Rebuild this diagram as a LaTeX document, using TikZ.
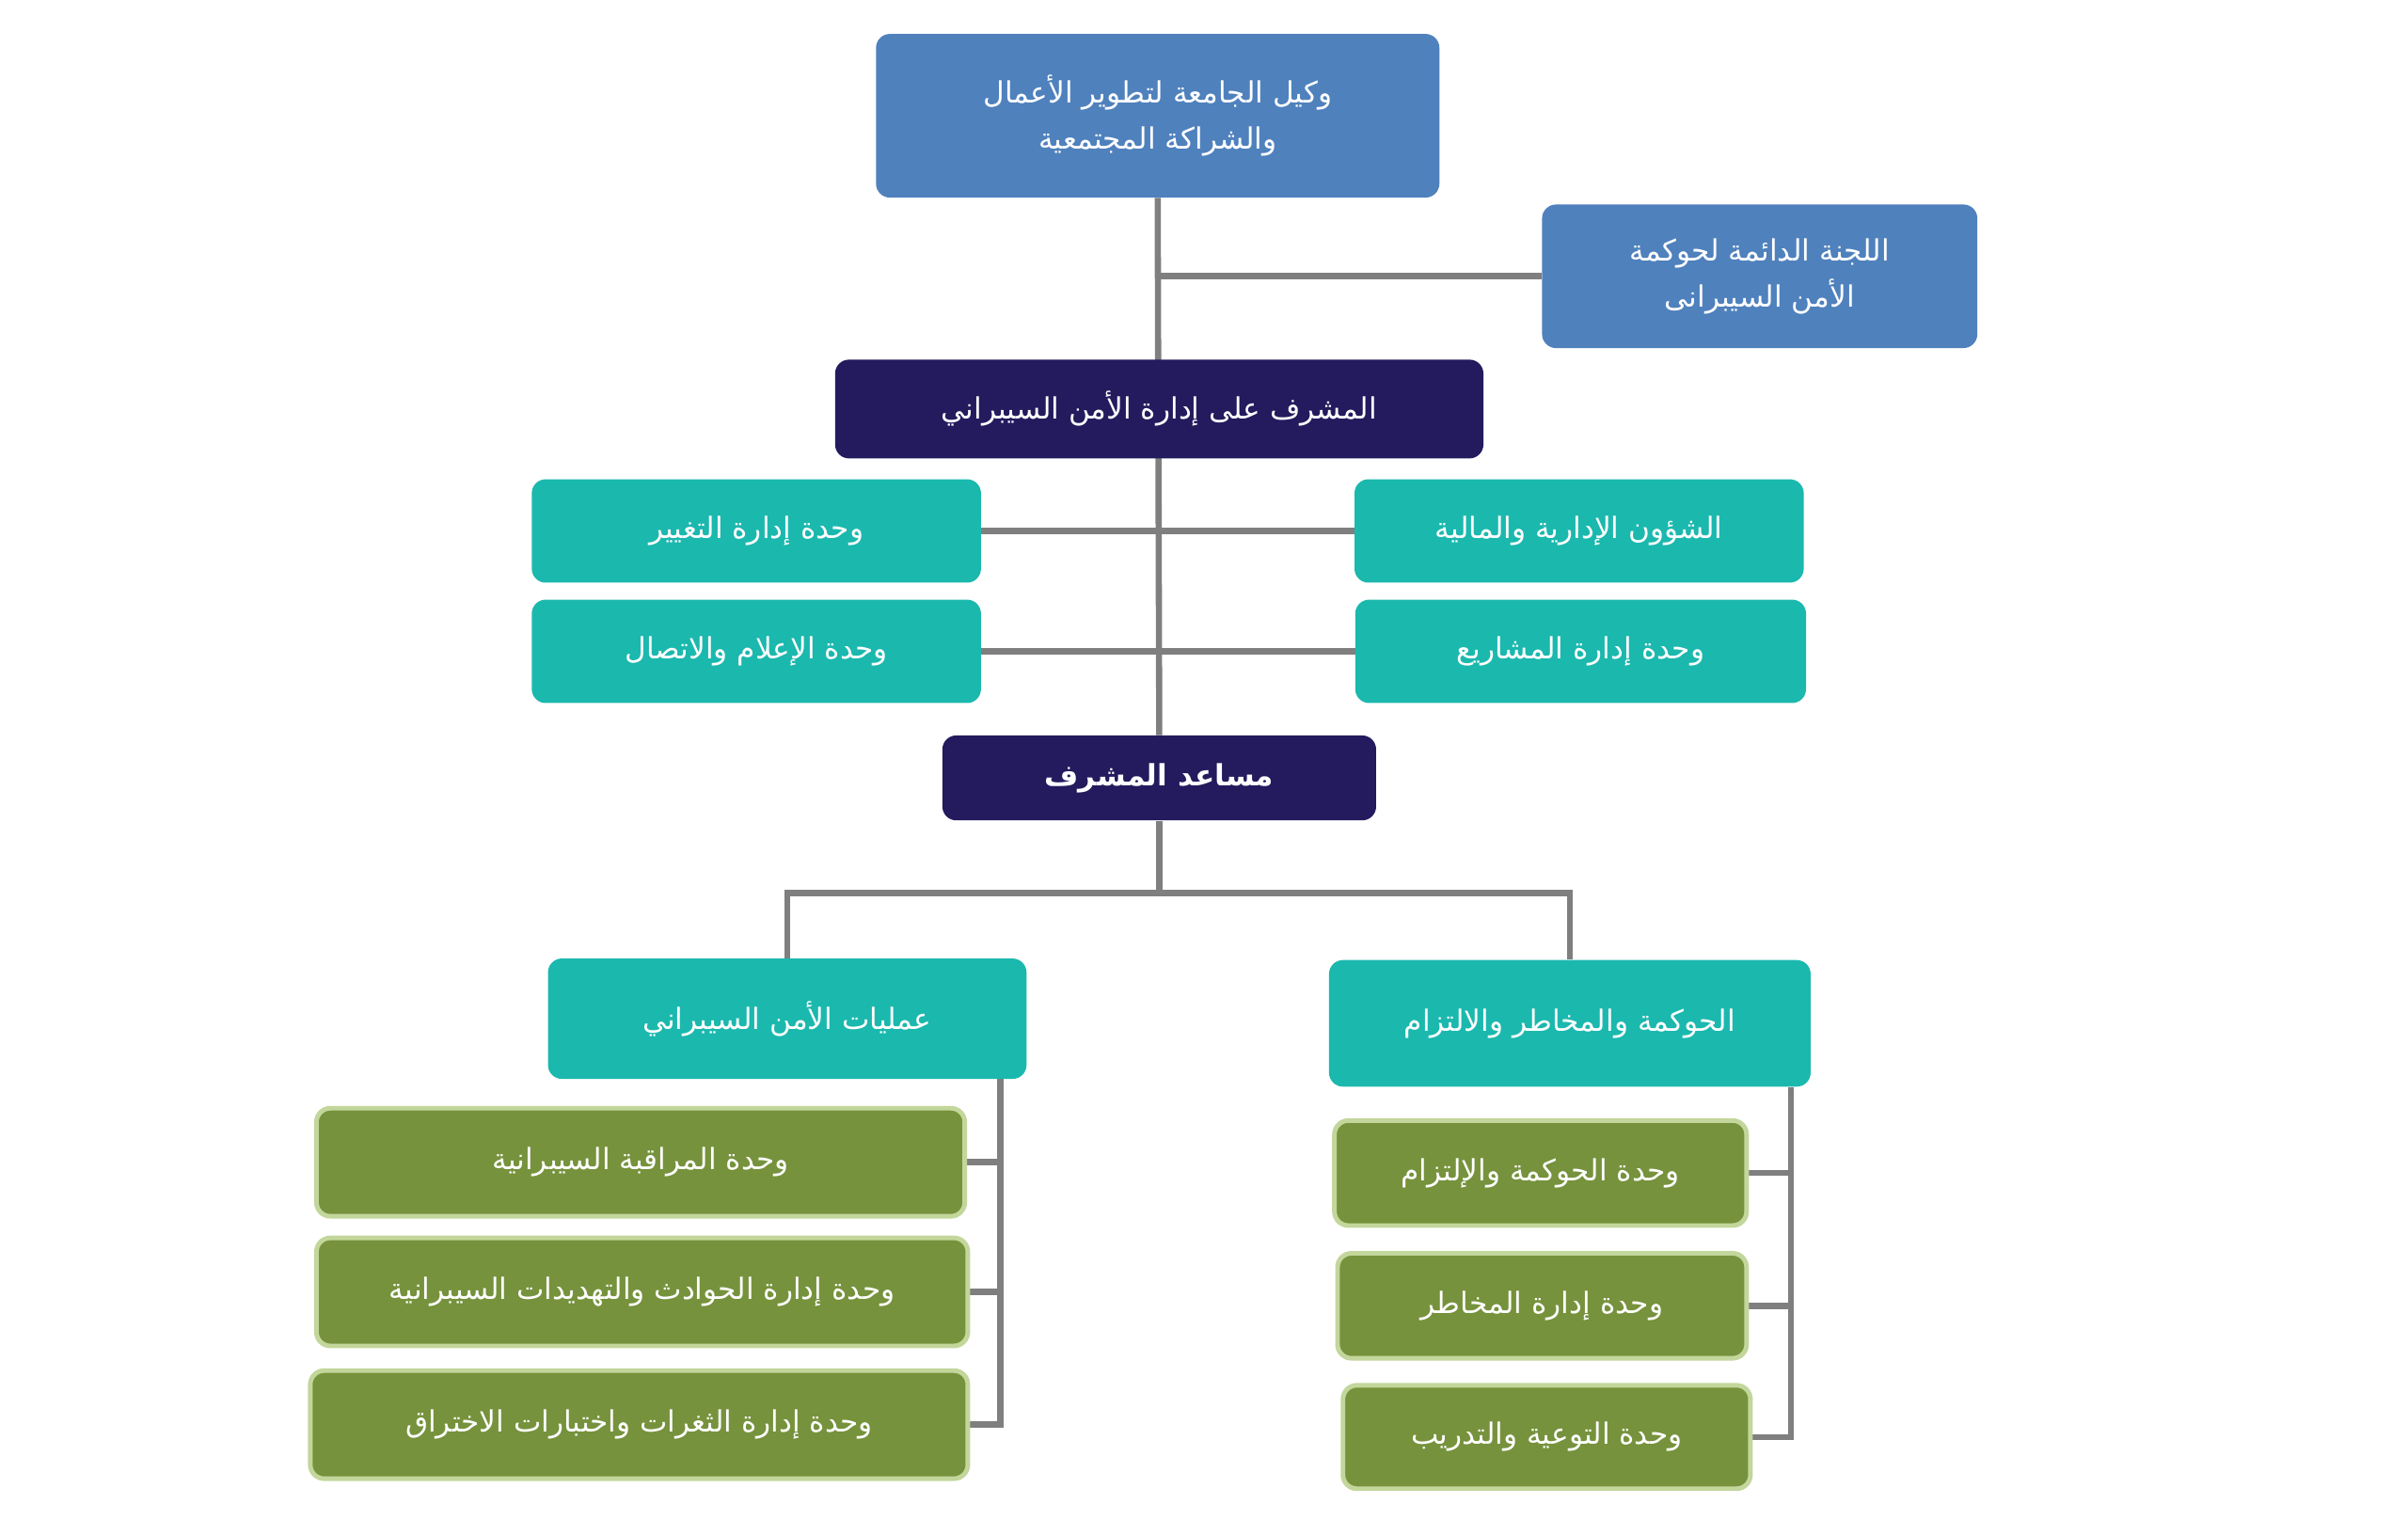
\documentclass[tikz,border=0pt]{standalone}
\usepackage{fontspec}
\newfontfamily\arabicfont[Script=Arabic]{DejaVu Sans}
\TeXXeTstate=1
\usetikzlibrary{backgrounds}
\definecolor{chairblue}{HTML}{4F81BD}
\definecolor{navy}{HTML}{231B5E}
\definecolor{tealbox}{HTML}{1BB8AE}
\definecolor{olivebox}{HTML}{76923C}
\definecolor{oliveedge}{HTML}{C3D69B}
\definecolor{linkgray}{HTML}{7F7F7F}
\newcommand\artxt[1]{\beginR #1\endR}
\tikzset{
  unit/.style={rounded corners=9pt, text=white, align=center, inner sep=0pt,
    font=\arabicfont\fontsize{19}{30}\selectfont},
  bluebox/.style={unit, fill=chairblue},
  navybox/.style={unit, fill=navy},
  tealunit/.style={unit, fill=tealbox},
  greenunit/.style={unit, fill=olivebox, draw=oliveedge, line width=3pt},
  link/.style={draw=linkgray, line width=4pt}
}
\begin{document}
\begin{tikzpicture}[x=1pt,y=-1pt]
  \useasboundingbox (0,0) rectangle (1560,984);

  % top of the chart
  \node[bluebox, minimum width=365, minimum height=106] (chair) at (750,75)
    {\artxt{وكيل الجامعة لتطوير الأعمال}\\ \artxt{والشراكة المجتمعية}};
  \node[bluebox, minimum width=282, minimum height=93] (board) at (1140,179)
    {\artxt{اللجنة الدائمة لحوكمة}\\ \artxt{الأمن السيبرانى}};
  \node[navybox, minimum width=420, minimum height=64] (head) at (751,265)
    {\artxt{المشرف على إدارة الأمن السيبراني}};

  % staff units
  \node[tealunit, minimum width=291, minimum height=67] (change) at (490,344) {\artxt{وحدة إدارة التغيير}};
  \node[tealunit, minimum width=291, minimum height=67] (admin) at (1023,344) {\artxt{الشؤون الإدارية والمالية}};
  \node[tealunit, minimum width=291, minimum height=67] (media) at (490,422) {\artxt{وحدة الإعلام والاتصال}};
  \node[tealunit, minimum width=292, minimum height=67] (projects) at (1024,422) {\artxt{وحدة إدارة المشاريع}};

  \node[navybox, minimum width=281, minimum height=55, font=\arabicfont\bfseries\fontsize{19}{30}\selectfont] (deputy) at (751,504)
    {\artxt{مساعد المشرف}};

  % two branches
  \node[tealunit, minimum width=310, minimum height=78] (ops) at (510,660) {\artxt{عمليات الأمن السيبراني}};
  \node[tealunit, minimum width=312, minimum height=82] (gov) at (1017,663) {\artxt{الحوكمة والمخاطر والالتزام}};

  \node[greenunit, minimum width=420, minimum height=70] (watch) at (415,753) {\artxt{وحدة المراقبة السيبرانية}};
  \node[greenunit, minimum width=422, minimum height=70] (incid) at (416,837) {\artxt{وحدة إدارة الحوادث والتهديدات السيبرانية}};
  \node[greenunit, minimum width=426, minimum height=70] (vuln) at (414,923) {\artxt{وحدة إدارة الثغرات واختبارات الاختراق}};
  \node[greenunit, minimum width=267, minimum height=68] (comply) at (998,760) {\artxt{وحدة الحوكمة والإلتزام}};
  \node[greenunit, minimum width=265, minimum height=68] (risk) at (999,846) {\artxt{وحدة إدارة المخاطر}};
  \node[greenunit, minimum width=264, minimum height=67] (aware) at (1002,931) {\artxt{وحدة التوعية والتدريب}};

  \begin{scope}[on background layer]
    \draw[link] (chair.south) -- (deputy.north);
    \draw[link] (board.west) -- (chair.south |- board.west);
    \draw[link] (change.east) -- (admin.west);
    \draw[link] (media.east) -- (projects.west);
    \draw[link] (deputy.south) -- ++(0,47) coordinate (fork);
    \draw[link] (fork) -| (ops.north);
    \draw[link] (fork) -| (gov.north);
    % left column spine
    \coordinate (opsrail) at ([xshift=-17pt]ops.south east);
    \draw[link] (opsrail) |- (vuln.east);
    \draw[link] (watch.east) -- (watch.east -| opsrail);
    \draw[link] (incid.east) -- (incid.east -| opsrail);
    % right column spine
    \coordinate (govrail) at ([xshift=-13pt]gov.south east);
    \draw[link] (govrail) |- (aware.east);
    \draw[link] (comply.east) -- (comply.east -| govrail);
    \draw[link] (risk.east) -- (risk.east -| govrail);
  \end{scope}
\end{tikzpicture}
\end{document}
